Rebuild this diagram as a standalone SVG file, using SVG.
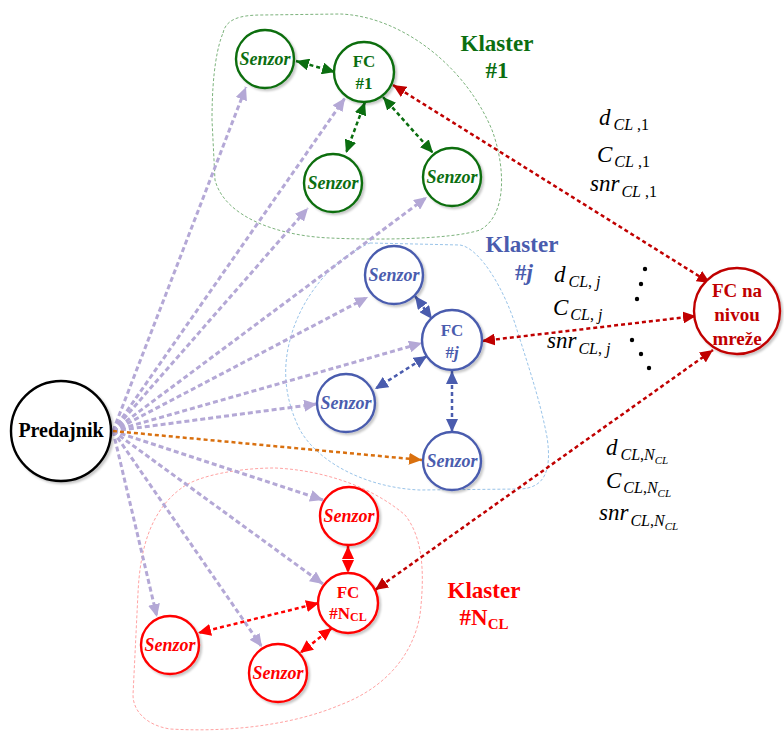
<svg xmlns="http://www.w3.org/2000/svg" width="784" height="731" viewBox="0 0 784 731">
<style>
text{font-family:"Liberation Serif","Times New Roman",serif;}
.node{fill:#fff;stroke-width:2.4;filter:url(#sh);}
.g{stroke:#0b6e10;} .gt{fill:#0b6e10;}
.b{stroke:#4a5cae;} .bt{fill:#4a5cae;}
.r{stroke:#ff0000;} .rt{fill:#ff0000;}
.dr{stroke:#c00000;} .drt{fill:#c00000;}
.sen{font-size:18px;font-weight:bold;font-style:italic;text-anchor:middle;}
.fc{font-size:17px;font-weight:bold;text-anchor:middle;}
.kl{font-size:23px;font-weight:bold;text-anchor:middle;}
.m{font-size:23px;font-style:italic;fill:#000;}
.lav{stroke:#b4a8d6;stroke-width:3;stroke-dasharray:5 3;fill:none;marker-end:url(#aLav);}
.con{stroke-width:2.5;stroke-dasharray:4 3;fill:none;}
.outl{fill:none;stroke-width:0.8;stroke-dasharray:3 2;}
</style>
<defs>
<filter id="sh" x="-20%" y="-20%" width="150%" height="150%"><feDropShadow dx="2" dy="2" stdDeviation="1.2" flood-color="#000" flood-opacity="0.22"/></filter>
<marker id="aLav" markerUnits="userSpaceOnUse" markerWidth="14" markerHeight="12" refX="13" refY="6" orient="auto-start-reverse"><path d="M0,0 L13,6 L0,12 z" fill="#b4a8d6"/></marker>
<marker id="aOr" markerUnits="userSpaceOnUse" markerWidth="14" markerHeight="12" refX="13" refY="6" orient="auto-start-reverse"><path d="M0,0 L13,6 L0,12 z" fill="#d9700f"/></marker>
<marker id="aG" markerUnits="userSpaceOnUse" markerWidth="14" markerHeight="12" refX="13" refY="6" orient="auto-start-reverse"><path d="M0,0 L13,6 L0,12 z" fill="#0b6e10"/></marker>
<marker id="aB" markerUnits="userSpaceOnUse" markerWidth="14" markerHeight="12" refX="13" refY="6" orient="auto-start-reverse"><path d="M0,0 L13,6 L0,12 z" fill="#4a5cae"/></marker>
<marker id="aR" markerUnits="userSpaceOnUse" markerWidth="14" markerHeight="12" refX="13" refY="6" orient="auto-start-reverse"><path d="M0,0 L13,6 L0,12 z" fill="#ff0000"/></marker>
<marker id="aDR" markerUnits="userSpaceOnUse" markerWidth="14" markerHeight="12" refX="13" refY="6" orient="auto-start-reverse"><path d="M0,0 L13,6 L0,12 z" fill="#c00000"/></marker>
</defs>

<g id="outlines">
<path class="outl" stroke="#5a9e5a" d="M223,33 C226,19 240,15 262,15 L340,14 C400,16 465,65 492,130 C505,165 508,215 480,230 C450,240 370,240 330,238 C280,236 225,218 215,180 L212,120 C212,70 218,45 223,33 Z"/>
<path class="outl" stroke="#7fb4e2" d="M370,243 L460,245 C480,248 505,290 517,330 C528,365 540,400 547,437 C552,470 545,488 520,489 L420,490 C370,488 320,465 300,430 C285,400 282,370 290,340 C300,300 330,260 370,243 Z"/>
<path class="outl" stroke="#ff8a8a" d="M183,487 C200,475 240,468 275,468 C320,470 370,485 405,515 C425,540 424,580 420,615 C412,660 380,690 340,705 C300,722 240,733 170,729 C145,725 133,710 133,695 L138,593 C140,550 150,510 183,487 Z"/>
</g>

<g id="connectors">
<line class="lav" x1="113" y1="431" x2="246" y2="87"/>
<line class="lav" x1="113" y1="431" x2="345" y2="98"/>
<line class="lav" x1="113" y1="431" x2="308" y2="208"/>
<line class="lav" x1="113" y1="431" x2="427" y2="197"/>
<line class="lav" x1="113" y1="431" x2="368" y2="297"/>
<line class="lav" x1="113" y1="431" x2="422" y2="343"/>
<line class="lav" x1="113" y1="431" x2="317" y2="404"/>
<line class="lav" x1="113" y1="431" x2="323" y2="500"/>
<line class="lav" x1="113" y1="431" x2="323" y2="584"/>
<line class="lav" x1="113" y1="431" x2="157" y2="617"/>
<line class="lav" x1="113" y1="431" x2="262" y2="647"/>
<line class="con" stroke="#d9700f" x1="113" y1="431" x2="422" y2="460" marker-end="url(#aOr)"/>

<line class="con" stroke="#0b6e10" x1="296" y1="61" x2="335" y2="72" marker-start="url(#aG)" marker-end="url(#aG)"/>
<line class="con" stroke="#0b6e10" x1="365" y1="102" x2="346" y2="153" marker-start="url(#aG)" marker-end="url(#aG)"/>
<line class="con" stroke="#0b6e10" x1="383" y1="97" x2="433" y2="153" marker-start="url(#aG)" marker-end="url(#aG)"/>

<line class="con" stroke="#4a5cae" x1="415" y1="296" x2="432" y2="319" marker-start="url(#aB)" marker-end="url(#aB)"/>
<line class="con" stroke="#4a5cae" x1="427" y1="356" x2="375" y2="389" marker-start="url(#aB)" marker-end="url(#aB)"/>
<line class="con" stroke="#4a5cae" x1="452" y1="371" x2="452" y2="432" marker-start="url(#aB)" marker-end="url(#aB)"/>

<line class="con" stroke="#ff0000" x1="348" y1="546" x2="348" y2="573" marker-start="url(#aR)" marker-end="url(#aR)"/>
<line class="con" stroke="#ff0000" x1="319" y1="603" x2="198" y2="633" marker-start="url(#aR)" marker-end="url(#aR)"/>
<line class="con" stroke="#ff0000" x1="332" y1="628" x2="300" y2="653" marker-start="url(#aR)" marker-end="url(#aR)"/>

<line class="con" stroke="#c00000" x1="393" y1="85" x2="710" y2="283" marker-start="url(#aDR)" marker-end="url(#aDR)"/>
<line class="con" stroke="#c00000" x1="482" y1="341" x2="696" y2="316" marker-start="url(#aDR)" marker-end="url(#aDR)"/>
<line class="con" stroke="#c00000" x1="375" y1="590" x2="713" y2="350" marker-start="url(#aDR)" marker-end="url(#aDR)"/>
</g>

<g id="predajnik">
<circle class="node" cx="61" cy="431" r="50" stroke="#000"/>
<text x="61" y="437" font-size="20" font-weight="bold" text-anchor="middle" fill="#000">Predajnik</text>
</g>

<g id="c1-senzor-a"><circle class="node g" cx="265" cy="59" r="29"/><text class="sen gt" x="265" y="65">Senzor</text></g>
<g id="c1-fc"><circle class="node g" cx="364" cy="72" r="30"/><text class="fc gt" x="364" y="67">FC</text><text class="fc gt" x="364" y="89">#1</text></g>
<g id="c1-senzor-b"><circle class="node g" cx="333" cy="183" r="29"/><text class="sen gt" x="333" y="189">Senzor</text></g>
<g id="c1-senzor-c"><circle class="node g" cx="452" cy="177" r="29"/><text class="sen gt" x="452" y="183">Senzor</text></g>

<g id="cj-senzor-a"><circle class="node b" cx="394" cy="275" r="29"/><text class="sen bt" x="394" y="281">Senzor</text></g>
<g id="cj-fc"><circle class="node b" cx="452" cy="340" r="30"/><text class="fc bt" x="452" y="336">FC</text><text class="fc bt" x="452" y="358">#<tspan font-style="italic">j</tspan></text></g>
<g id="cj-senzor-b"><circle class="node b" cx="346" cy="403" r="29"/><text class="sen bt" x="346" y="409">Senzor</text></g>
<g id="cj-senzor-c"><circle class="node b" cx="452" cy="461" r="29"/><text class="sen bt" x="452" y="467">Senzor</text></g>

<g id="cn-senzor-a"><circle class="node r" cx="349" cy="516" r="29"/><text class="sen rt" x="349" y="522">Senzor</text></g>
<g id="cn-fc"><circle class="node r" cx="348" cy="603" r="30"/><text class="fc rt" x="348" y="598">FC</text><text class="fc rt" x="348" y="619">#N<tspan font-size="12" dy="2">CL</tspan></text></g>
<g id="cn-senzor-b"><circle class="node r" cx="170" cy="645" r="29"/><text class="sen rt" x="170" y="651">Senzor</text></g>
<g id="cn-senzor-c"><circle class="node r" cx="278" cy="673" r="29"/><text class="sen rt" x="278" y="679">Senzor</text></g>

<g id="fc-net"><circle class="node dr" cx="737" cy="311" r="43"/>
<text x="737" y="297" font-size="19" font-weight="bold" text-anchor="middle" class="drt">FC na</text>
<text x="737" y="321" font-size="19" font-weight="bold" text-anchor="middle" class="drt">nivou</text>
<text x="737" y="345" font-size="19" font-weight="bold" text-anchor="middle" class="drt">mreže</text>
</g>

<g id="labels">
<text class="kl gt" x="497" y="51">Klaster</text>
<text class="kl gt" x="497" y="78">#1</text>
<text class="kl bt" x="522" y="252">Klaster</text>
<text class="kl bt" x="524" y="280">#<tspan font-style="italic">j</tspan></text>
<text class="kl rt" x="484" y="598">Klaster</text>
<text class="kl rt" x="484" y="625">#N<tspan font-size="15" dy="4">CL</tspan></text>

<text class="m" x="599" y="125">d<tspan font-size="16" dy="5" dx="3">CL</tspan><tspan font-size="16" font-style="normal"> ,1</tspan></text>
<text class="m" x="597" y="162">C<tspan font-size="16" dy="5" dx="2">CL</tspan><tspan font-size="16" font-style="normal"> ,1</tspan></text>
<text class="m" x="590" y="191">snr<tspan font-size="16" dy="6" dx="2">CL</tspan><tspan font-size="16" font-style="normal"> ,1</tspan></text>

<text class="m" x="554" y="282">d<tspan font-size="16" dy="5" dx="3">CL</tspan><tspan font-size="16" font-style="normal">,</tspan><tspan font-size="16"> j</tspan></text>
<text class="m" x="553" y="315">C<tspan font-size="16" dy="5" dx="2">CL</tspan><tspan font-size="16" font-style="normal">,</tspan><tspan font-size="16"> j</tspan></text>
<text class="m" x="547" y="348">snr<tspan font-size="16" dy="6" dx="2">CL</tspan><tspan font-size="16" font-style="normal">,</tspan><tspan font-size="16"> j</tspan></text>

<text class="m" x="606" y="455">d<tspan font-size="16" dy="5" dx="3">CL</tspan><tspan font-size="16" font-style="normal">,</tspan><tspan font-size="16">N</tspan><tspan font-size="11" dy="4">CL</tspan></text>
<text class="m" x="606" y="488">C<tspan font-size="16" dy="5" dx="2">CL</tspan><tspan font-size="16" font-style="normal">,</tspan><tspan font-size="16">N</tspan><tspan font-size="11" dy="4">CL</tspan></text>
<text class="m" x="599" y="520">snr<tspan font-size="16" dy="6" dx="2">CL</tspan><tspan font-size="16" font-style="normal">,</tspan><tspan font-size="16">N</tspan><tspan font-size="11" dy="4">CL</tspan></text>
</g>

<g id="dots" fill="#000">
<circle cx="645" cy="269" r="2.2"/><circle cx="641" cy="284" r="2.2"/><circle cx="637" cy="299" r="2.2"/>
<circle cx="632" cy="340" r="2.2"/><circle cx="641" cy="354" r="2.2"/><circle cx="649" cy="368" r="2.2"/>
</g>
</svg>
